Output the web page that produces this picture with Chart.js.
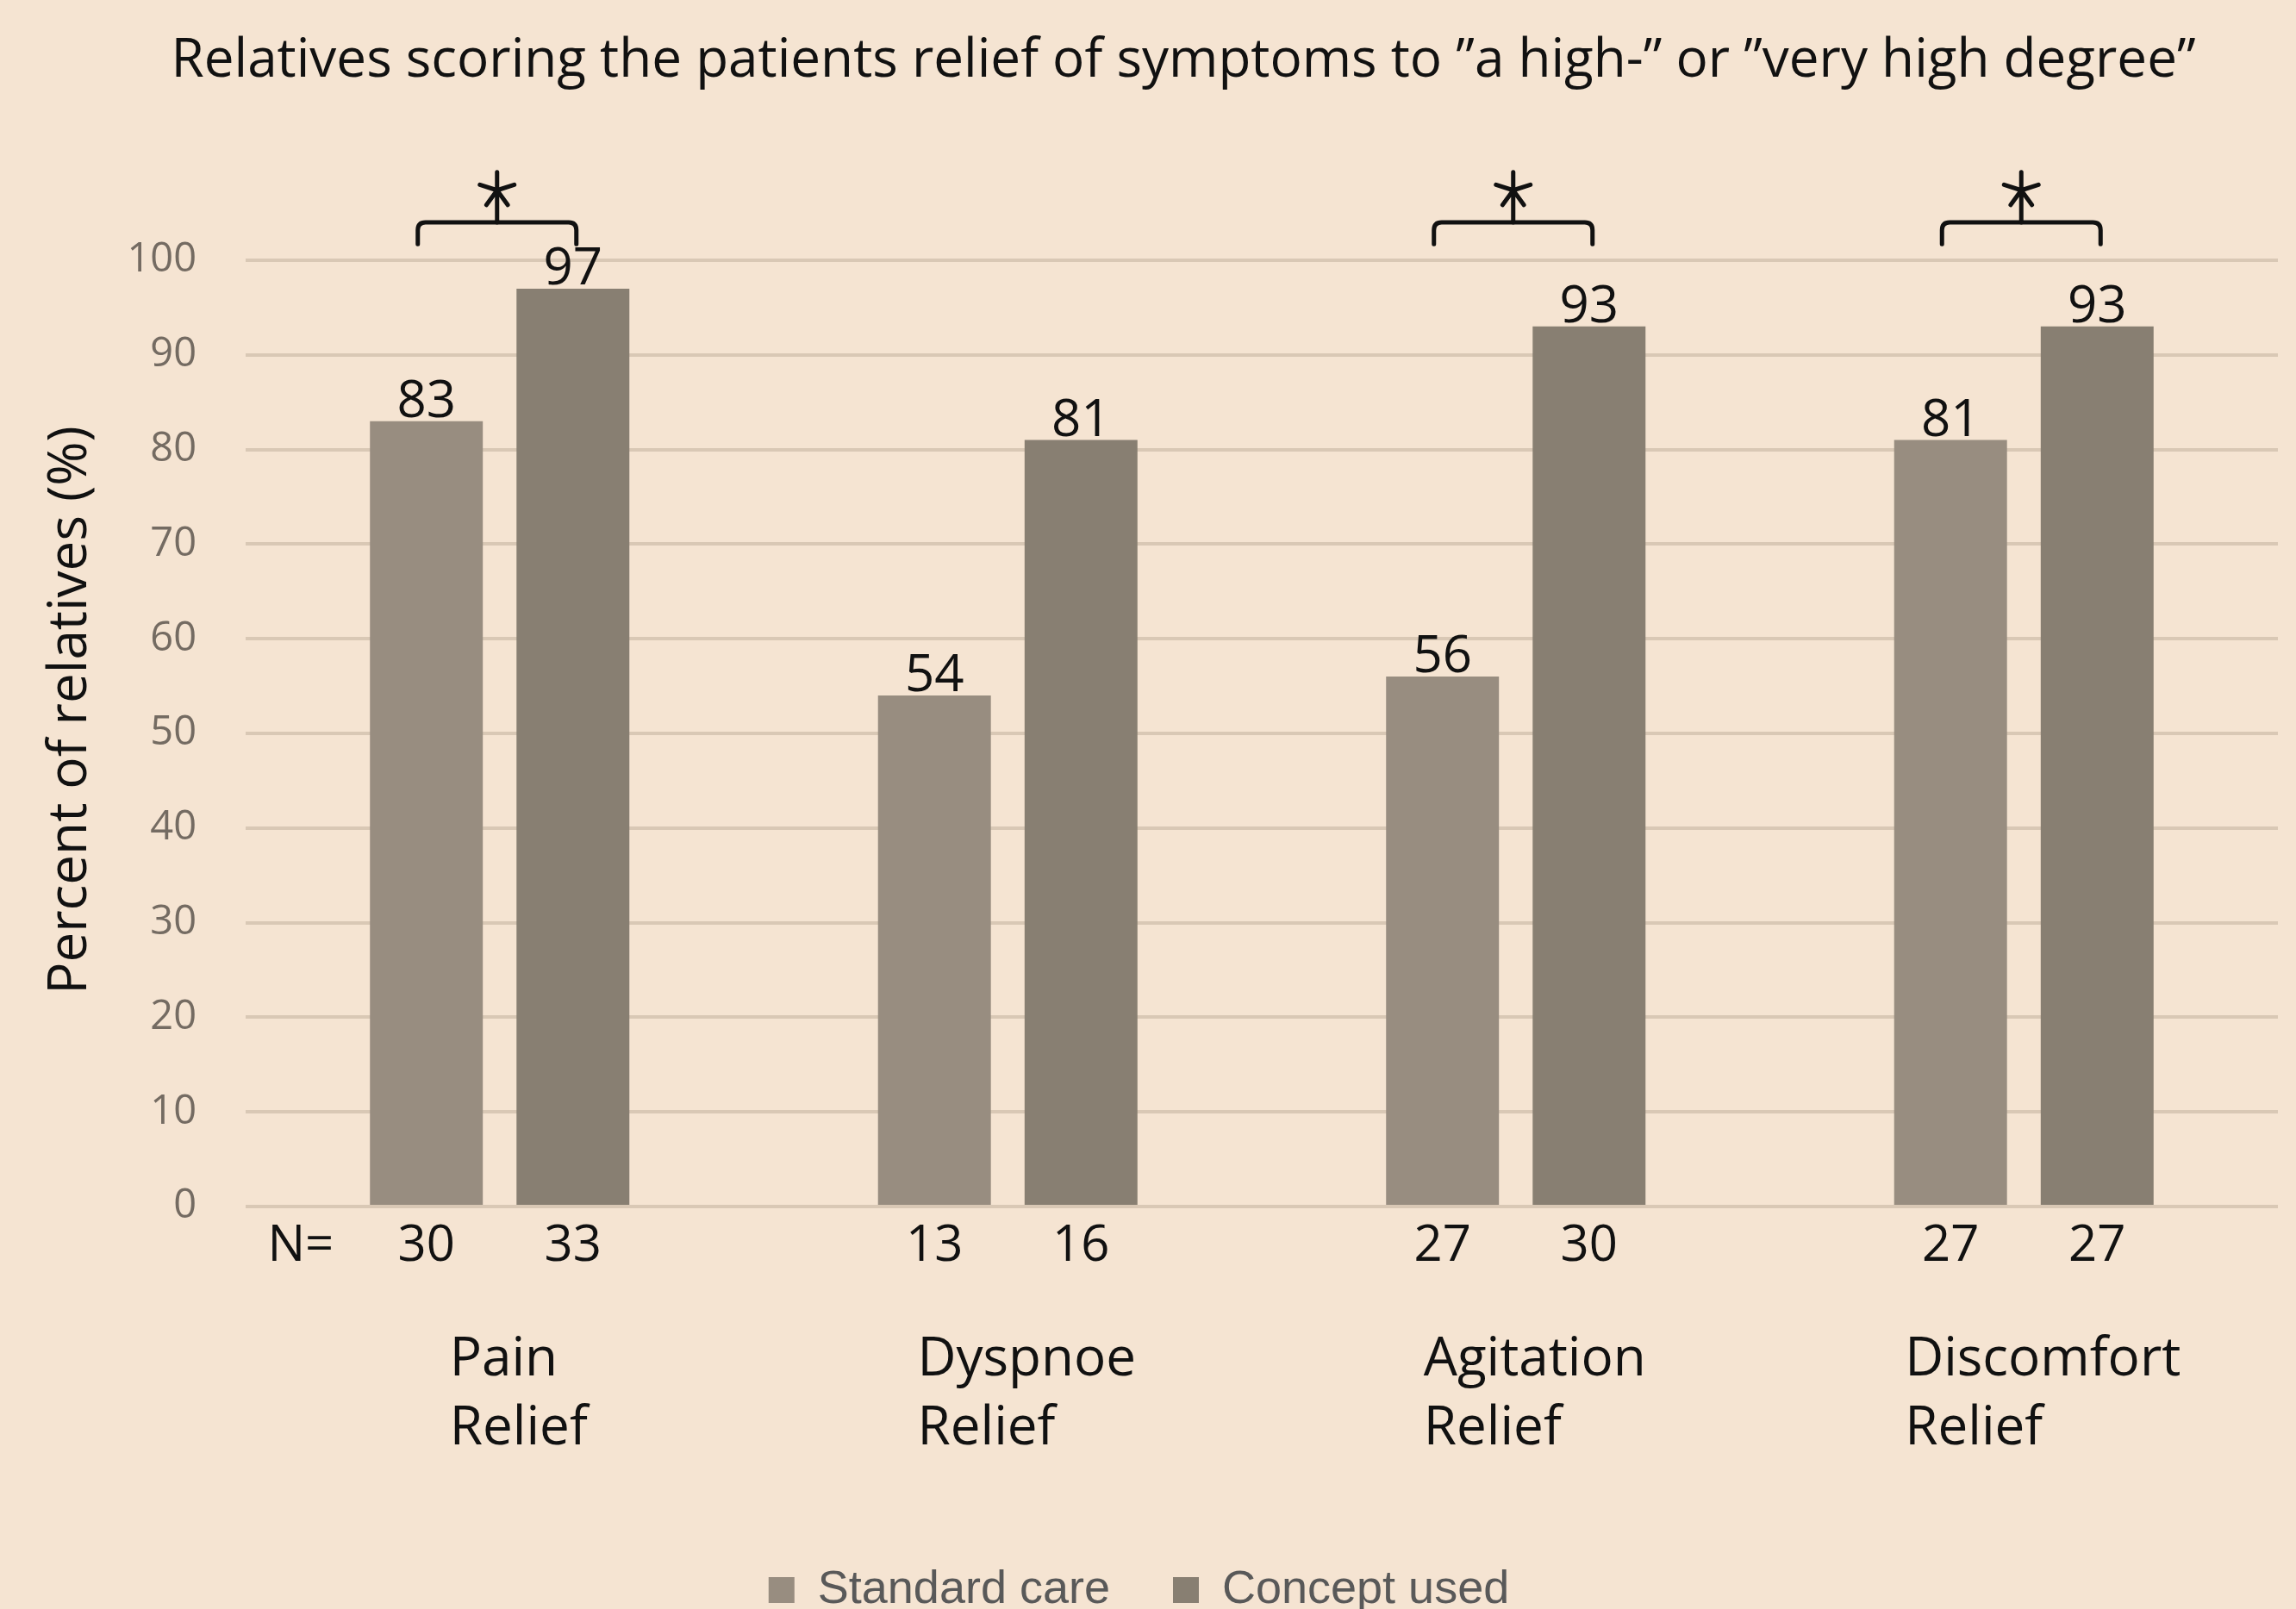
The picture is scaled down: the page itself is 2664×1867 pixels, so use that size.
<!DOCTYPE html>
<html>
<head>
<meta charset="utf-8">
<script src="https://cdn.jsdelivr.net/npm/chart.js@4.4.1/dist/chart.umd.min.js"></script>
<style>
  html, body { margin: 0; padding: 0; background: #F5E4D2; width: 2664px; height: 1867px; overflow: hidden; }
  #wrap { width: 2664px; height: 1882px; }
</style>
</head>
<body>
<div id="wrap"><canvas id="myChart"></canvas></div>
<script>
const chartTitle = 'Relatives scoring the patients relief of symptoms to \u201da high-\u201d or \u201dvery high degree\u201d';
const yTitle = 'Percent of relatives (%)';
const categories = [['Pain', 'Relief'], ['Dyspnoe', 'Relief'], ['Agitation', 'Relief'], ['Discomfort', 'Relief']];
const standardCare = [83, 54, 56, 81];
const conceptUsed = [97, 81, 93, 93];
const nStandard = [30, 13, 27, 27];
const nConcept = [33, 16, 30, 27];
const significant = [true, false, true, true];
const yTicks = [0, 10, 20, 30, 40, 50, 60, 70, 80, 90, 100];

const BG = '#F5E4D2';
const FONT = "'Open Sans', 'Liberation Sans', sans-serif";

// background fill
const bgPlugin = {
  id: 'bg',
  beforeDraw(chart) {
    const ctx = chart.ctx;
    ctx.save();
    ctx.fillStyle = BG;
    ctx.fillRect(0, 0, chart.width, chart.height);
    ctx.restore();
  }
};

// titles, value labels, N= row, category names, significance brackets
const annotPlugin = {
  id: 'annot',
  afterDatasetsDraw(chart) {
    const ctx = chart.ctx;
    const x = chart.scales.x;
    const y = chart.scales.y;
    const nRows = [nStandard, nConcept];
    ctx.save();
    ctx.fillStyle = '#111';

    // chart title
    ctx.font = '62px ' + FONT;
    ctx.textAlign = 'center';
    ctx.textBaseline = 'middle';
    ctx.fillText(chartTitle, 1373, 71);

    // y axis title
    ctx.save();
    ctx.translate(82, (y.top + y.bottom) / 2 - 27);
    ctx.rotate(-Math.PI / 2);
    ctx.font = '62px ' + FONT;
    ctx.fillText(yTitle, 0, 0);
    ctx.restore();

    // values on top of bars + N under bars
    chart.data.datasets.forEach((ds, di) => {
      const meta = chart.getDatasetMeta(di);
      meta.data.forEach((bar, i) => {
        ctx.font = '60px ' + FONT;
        ctx.textAlign = 'center';
        ctx.textBaseline = 'alphabetic';
        ctx.fillText(String(ds.data[i]), bar.x, bar.y - 5);
        ctx.font = '58px ' + FONT;
        ctx.textBaseline = 'middle';
        ctx.fillText(String(nRows[di][i]), bar.x, y.bottom + 46);
      });
    });

    // "N=" in front of the first bar
    const first = chart.getDatasetMeta(0).data[0];
    ctx.font = '58px ' + FONT;
    ctx.textAlign = 'right';
    ctx.textBaseline = 'middle';
    ctx.fillText('N=', first.x - first.width / 2 - 42, y.bottom + 46);

    // category names, two lines, left aligned in a block
    ctx.font = '62px ' + FONT;
    ctx.textAlign = 'left';
    categories.forEach((lines, i) => {
      const cx = x.getPixelForValue(i);
      const w = Math.max(...lines.map(l => ctx.measureText(l).width));
      const left = cx + 22 - w / 2;
      lines.forEach((l, k) => ctx.fillText(l, left, y.bottom + 178 + k * 80));
    });

    // brackets with a star
    ctx.strokeStyle = '#111';
    ctx.lineWidth = 5;
    ctx.lineCap = 'round';
    ctx.lineJoin = 'round';
    significant.forEach((sig, i) => {
      if (!sig) return;
      const cx = x.getPixelForValue(i) - 3;
      const half = 92;
      const top = y.getPixelForValue(104);
      const legEnd = y.getPixelForValue(101.7);
      const r = 9;
      ctx.beginPath();
      ctx.moveTo(cx - half, legEnd);
      ctx.lineTo(cx - half, top + r);
      ctx.quadraticCurveTo(cx - half, top, cx - half + r, top);
      ctx.lineTo(cx + half - r, top);
      ctx.quadraticCurveTo(cx + half, top, cx + half, top + r);
      ctx.lineTo(cx + half, legEnd);
      ctx.stroke();

      const sy = y.getPixelForValue(107.4);
      ctx.beginPath();
      ctx.moveTo(cx, top);
      ctx.lineTo(cx, sy);
      const arm = 21;
      [-90, -18, -162, 54, 126].forEach(a => {
        const rad = a * Math.PI / 180;
        ctx.moveTo(cx, sy);
        ctx.lineTo(cx + arm * Math.cos(rad), sy + arm * Math.sin(rad));
      });
      ctx.stroke();
    });
    ctx.restore();
  }
};

window.onload = function () {
  const ctx = document.getElementById('myChart').getContext('2d');
  new Chart(ctx, {
    type: 'bar',
    data: {
      labels: categories.map(c => c.join(' ')),
      datasets: [
        { label: 'Standard care', data: standardCare, backgroundColor: '#988D80', borderWidth: 0 },
        { label: 'Concept used', data: conceptUsed, backgroundColor: '#887F72', borderWidth: 0 }
      ]
    },
    options: {
      responsive: true,
      maintainAspectRatio: false,
      animation: false,
      categoryPercentage: 0.577,
      barPercentage: 0.77,
      layout: { padding: { top: 302, right: 21, bottom: 0, left: 0 } },
      plugins: {
        title: { display: false },
        legend: {
          position: 'bottom',
          labels: {
            color: '#595959',
            font: { family: "'Liberation Sans', Arial, sans-serif", size: 54 },
            boxWidth: 30,
            boxHeight: 30,
            padding: 73
          }
        },
        tooltip: { enabled: false }
      },
      scales: {
        x: {
          grid: { display: false },
          border: { display: false },
          ticks: { display: false },
          afterFit(scale) { scale.height = 345; }
        },
        y: {
          min: 0,
          max: 100,
          afterBuildTicks(scale) { scale.ticks = yTicks.map(v => ({ value: v })); },
          afterFit(scale) { scale.width = 285; },
          grid: { color: '#D9C8B5', lineWidth: 4, drawTicks: false },
          border: { display: false },
          ticks: {
            color: '#746B62',
            font: { family: FONT, size: 47 },
            padding: 57
          }
        }
      }
    },
    plugins: [bgPlugin, annotPlugin]
  });
};
</script>
</body>
</html>
